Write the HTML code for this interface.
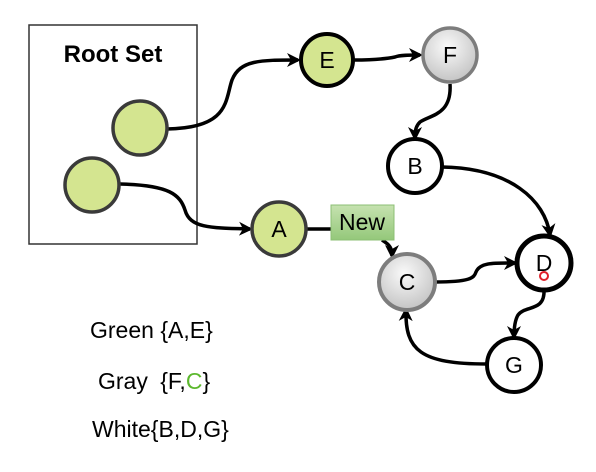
<!DOCTYPE html>
<html><head><meta charset="utf-8"><style>
body{margin:0;background:#fff;}
svg{display:block;font-family:"Liberation Sans",Arial,sans-serif;}
</style></head><body>
<svg width="596" height="472" viewBox="0 0 596 472">
<defs>
<marker id="ah" markerWidth="14" markerHeight="14" refX="11" refY="7" orient="auto" markerUnits="userSpaceOnUse" viewBox="0 0 14 14">
<path d="M0,0 L14,7 L0,14 L4,7 Z" fill="#000"/></marker>
<radialGradient id="gray" cx="45%" cy="35%" r="65%"><stop offset="0" stop-color="#fafafa"/><stop offset="1" stop-color="#c4c4c4"/></radialGradient>
<linearGradient id="newg" x1="0" y1="0" x2="0" y2="1"><stop offset="0" stop-color="#c6e2b0"/><stop offset="1" stop-color="#94c87a"/></linearGradient>
</defs>
<rect x="29" y="25" width="168" height="219" fill="none" stroke="#333" stroke-width="1.5"/>
<text x="113" y="62" font-size="24" font-weight="bold" text-anchor="middle">Root Set</text>
<g fill="none" stroke="#000" stroke-width="3.5">
<path d="M167,129 C230,128 225,100 232,80 C240,60 260,60 298,60" marker-end="url(#ah)"/>
<path d="M354,60 C370,60 385,59 395,57 C400,55 410,55 420,55" marker-end="url(#ah)"/>
<path d="M450,84 C452,115 430,115 420,122 C416,126 415,130 415,138" marker-end="url(#ah)"/>
<path d="M120,184 C170,185 180,195 185,210 C190,228 210,228 250,229" marker-end="url(#ah)"/>
<path d="M306,229 L332,229"/>
<path d="M382,240 C390,245 392,248 392,256" marker-end="url(#ah)"/>
<path d="M442,167 C510,168 545,200 550,235" marker-end="url(#ah)"/>
<path d="M435,282 C470,282 474,278 476,272 C480,262 495,263 515,263" marker-end="url(#ah)"/>
<path d="M544,290 C545,312 525,305 518,315 C515,320 514,328 514,337" marker-end="url(#ah)"/>
<path d="M487,364 C420,364 405,350 406,310" marker-end="url(#ah)"/>
</g>
<g font-size="23" text-anchor="middle">
<circle cx="140" cy="128" r="27" fill="#d4e590" stroke="#3a3a3a" stroke-width="3.5"/>
<circle cx="92" cy="185" r="27" fill="#d4e590" stroke="#3a3a3a" stroke-width="3.5"/>
<circle cx="327" cy="60" r="26" fill="#d4e590" stroke="#000" stroke-width="4"/>
<text x="327" y="68">E</text>
<circle cx="450" cy="55" r="27" fill="url(#gray)" stroke="#7d7d7d" stroke-width="3.5"/>
<text x="450" y="63">F</text>
<circle cx="415" cy="166" r="27" fill="#fff" stroke="#000" stroke-width="4"/>
<text x="415" y="174">B</text>
<circle cx="279" cy="229" r="27" fill="#d4e590" stroke="#3a3a3a" stroke-width="3.5"/>
<text x="279" y="237">A</text>
<circle cx="407" cy="282" r="28" fill="url(#gray)" stroke="#7d7d7d" stroke-width="4"/>
<text x="407" y="290">C</text>
<circle cx="544" cy="263" r="27" fill="#fff" stroke="#000" stroke-width="5"/>
<text x="544" y="271">D</text>
<circle cx="544" cy="276" r="4" fill="none" stroke="#e0202a" stroke-width="2"/>
<circle cx="514" cy="365" r="27" fill="#fff" stroke="#000" stroke-width="4"/>
<text x="514" y="373">G</text>
</g>
<rect x="331" y="205" width="63" height="35" fill="url(#newg)" stroke="#8cbf74"/>
<text x="362" y="230" font-size="23" text-anchor="middle">New</text>
<g font-size="23">
<text x="90" y="338">Green {A,E}</text>
<text x="98" y="389">Gray <tspan dx="6">{F,</tspan><tspan fill="#5cb82e">C</tspan>}</text>
<text x="92" y="437">White{B,D,G}</text>
</g>
</svg>
</body></html>
